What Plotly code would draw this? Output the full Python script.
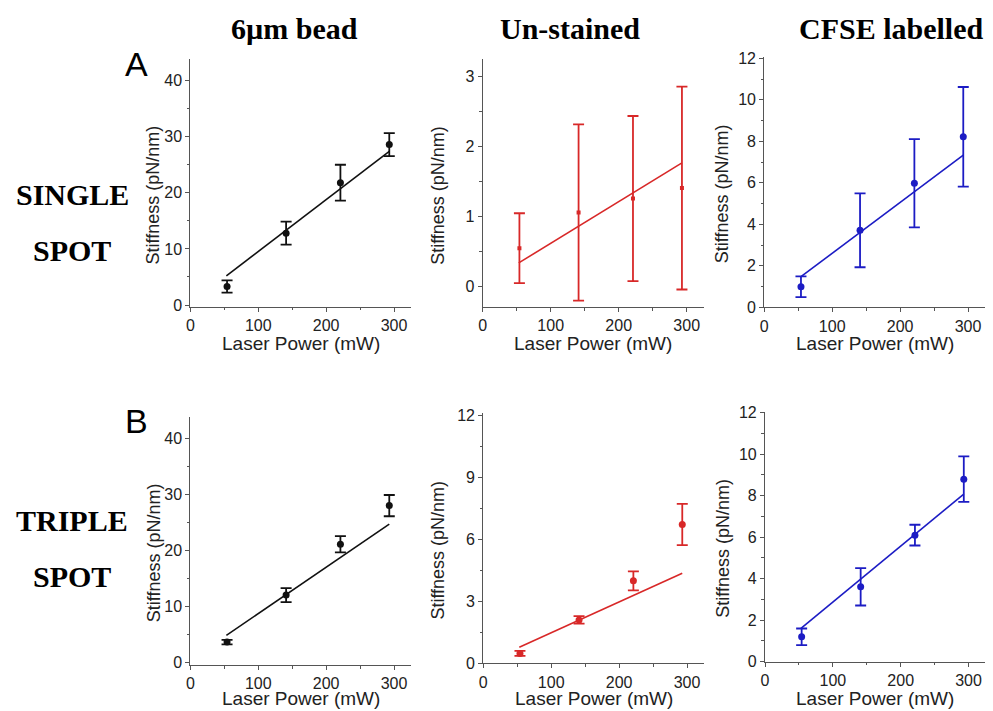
import plotly.graph_objects as go

# the page body keeps an 8px margin; the figure starts 8px in and
# its overflow past the window edge is simply not visible
OFF = 8
W, H = 993, 711

# ---------------- data ----------------
power = [54, 141, 221, 293]
fit_x = [53, 293]

bead_single = [3.3, 12.8, 21.8, 28.6]
bead_single_err = [1.1, 2.05, 3.2, 2.05]
bead_single_fit = [5.2, 27.4]

unst_single = [0.54, 1.05, 1.25, 1.40]
unst_single_err = [0.5, 1.26, 1.18, 1.45]
unst_single_fit = [0.33, 1.76]

cfse_single = [0.99, 3.71, 5.98, 8.22]
cfse_single_err = [0.5, 1.78, 2.13, 2.4]
cfse_single_fit = [1.45, 7.34]

bead_triple = [3.6, 12.0, 21.1, 28.0]
bead_triple_err = [0.4, 1.25, 1.45, 1.9]
bead_triple_fit = [4.8, 24.7]

unst_triple = [0.48, 2.1, 3.99, 6.72]
unst_triple_err = [0.12, 0.18, 0.46, 1.0]
unst_triple_fit = [0.78, 4.36]

cfse_triple = [1.2, 3.61, 6.1, 8.8]
cfse_triple_err = [0.4, 0.9, 0.5, 1.1]
cfse_triple_fit = [1.61, 8.08]

col_titles = ["6µm bead", "Un-stained", "CFSE labelled"]
row_titles = [["SINGLE", "SPOT"], ["TRIPLE", "SPOT"]]
panel_letters = ["A", "B"]
x_title = "Laser Power (mW)"
y_title = "Stiffness (pN/nm)"

BLACK = "#111111"
RED = "#d82828"
BLUE = "#1c1cc4"

# panel layout in window pixels: x span, y span, y range, tick steps, title offset
panels = [
    dict(px=(190.4, 411), py=(59.3, 306.7), yr=(-0.3, 43.8), dt=10, mt=5, yo=37,
         y=bead_single, e=bead_single_err, f=bead_single_fit, c=BLACK, ms=7, sym="circle"),
    dict(px=(482.7, 703.7), py=(59.3, 307), yr=(-0.3, 3.24), dt=1, mt=0.5, yo=45,
         y=unst_single, e=unst_single_err, f=unst_single_fit, c=RED, ms=4, sym="square"),
    dict(px=(764.3, 985), py=(56.7, 307.3), yr=(0, 12.08), dt=2, mt=1, yo=42,
         y=cfse_single, e=cfse_single_err, f=cfse_single_fit, c=BLUE, ms=7, sym="circle"),
    dict(px=(190.4, 411), py=(416.7, 665), yr=(-0.5, 43.9), dt=10, mt=5, yo=37,
         y=bead_triple, e=bead_triple_err, f=bead_triple_fit, c=BLACK, ms=7, sym="circle"),
    dict(px=(483.3, 704), py=(413.3, 663.3), yr=(0, 12.1), dt=3, mt=1.5, yo=45,
         y=unst_triple, e=unst_triple_err, f=unst_triple_fit, c=RED, ms=7, sym="circle"),
    dict(px=(765, 985.5), py=(411.7, 661.7), yr=(0, 12.05), dt=2, mt=1, yo=42,
         y=cfse_triple, e=cfse_triple_err, f=cfse_triple_fit, c=BLUE, ms=7, sym="circle"),
]


def fx(p):
    return min(1.0, max(0.0, (p - OFF) / W))


def fy(p):
    return min(1.0, max(0.0, 1 - (p - OFF) / H))


fig = go.Figure()
layout = dict(width=W, height=H, margin=dict(l=0, r=0, t=0, b=0, autoexpand=False),
              paper_bgcolor="white", plot_bgcolor="white", showlegend=False)
annotations = []
AX_COLOR = "#555555"
TXT = "#222222"
TICK_FONT = dict(family="Liberation Sans, Arial", size=16, color=TXT)

for i, p in enumerate(panels):
    n = "" if i == 0 else str(i + 1)
    xa, ya = "x" + n, "y" + n
    fig.add_trace(go.Scatter(
        x=fit_x, y=p["f"], mode="lines", line=dict(color=p["c"], width=1.6),
        xaxis=xa, yaxis=ya, hoverinfo="skip"))
    fig.add_trace(go.Scatter(
        x=power, y=p["y"], mode="markers",
        marker=dict(color=p["c"], size=p["ms"], symbol=p["sym"]),
        error_y=dict(type="data", array=p["e"], color=p["c"], thickness=1.8, width=5.5),
        xaxis=xa, yaxis=ya))
    layout["xaxis" + n] = dict(
        domain=[fx(p["px"][0]), fx(p["px"][1])], range=[0, 325], anchor=ya,
        automargin=False,
        showgrid=False, zeroline=False, showline=True, linecolor=AX_COLOR, linewidth=1.2,
        ticks="outside", ticklen=4, tickcolor=AX_COLOR, tickwidth=1.2,
        tick0=0, dtick=100, tickfont=TICK_FONT,
        minor=dict(ticks="outside", ticklen=2.5, dtick=50, tickcolor=AX_COLOR, tickwidth=1),
        fixedrange=True)
    layout["yaxis" + n] = dict(
        domain=[fy(p["py"][1]), fy(p["py"][0])], range=list(p["yr"]), anchor=xa,
        automargin=False,
        showgrid=False, zeroline=False, showline=True, linecolor=AX_COLOR, linewidth=1.2,
        ticks="outside", ticklen=4, tickcolor=AX_COLOR, tickwidth=1.2,
        tick0=0, dtick=p["dt"], tickfont=TICK_FONT,
        minor=dict(ticks="outside", ticklen=2.5, dtick=p["mt"], tickcolor=AX_COLOR, tickwidth=1),
        fixedrange=True)
    xc = (p["px"][0] + p["px"][1]) / 2
    annotations.append(dict(
        text=x_title, x=fx(xc), y=fy(min(p["py"][1] + 36.5, 698)), xref="paper", yref="paper",
        showarrow=False, xanchor="center", yanchor="middle",
        font=dict(family="Liberation Sans, Arial", size=19, color=TXT)))
    yc = (p["py"][0] + p["py"][1]) / 2 + 12
    annotations.append(dict(
        text=y_title, x=fx(p["px"][0] - p["yo"]), y=fy(yc), xref="paper", yref="paper",
        showarrow=False, xanchor="center", yanchor="middle", textangle=-90,
        font=dict(family="Liberation Sans, Arial", size=18, color=TXT)))

SERIF = dict(family="Liberation Serif, Times New Roman", size=30, color="black")
col_centers = [294, 570, 891]
for t, xc in zip(col_titles, col_centers):
    annotations.append(dict(text="<b>%s</b>" % t, x=fx(xc), y=fy(28), xref="paper", yref="paper",
                            showarrow=False, xanchor="center", yanchor="middle", font=SERIF))
row_y = [(195, 250), (520, 576)]
for (t1, t2), (y1, y2) in zip(row_titles, row_y):
    annotations.append(dict(text="<b>%s</b>" % t1, x=fx(72), y=fy(y1), xref="paper", yref="paper",
                            showarrow=False, xanchor="center", yanchor="middle", font=SERIF))
    annotations.append(dict(text="<b>%s</b>" % t2, x=fx(72), y=fy(y2), xref="paper", yref="paper",
                            showarrow=False, xanchor="center", yanchor="middle", font=SERIF))
for L, yy in zip(panel_letters, [64, 421]):
    annotations.append(dict(text=L, x=fx(136), y=fy(yy), xref="paper", yref="paper",
                            showarrow=False, xanchor="center", yanchor="middle",
                            font=dict(family="Liberation Sans, Arial", size=34, color="black")))

layout["annotations"] = annotations
fig.update_layout(**layout)
fig.write_html("out.html")
